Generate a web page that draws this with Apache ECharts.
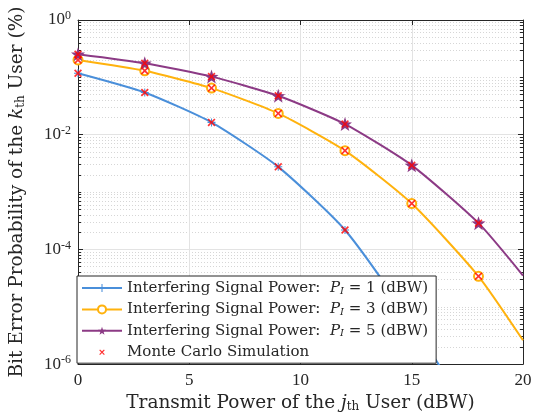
<!DOCTYPE html>
<html>
<head>
<meta charset="utf-8">
<script src="https://cdn.jsdelivr.net/npm/echarts@6/dist/echarts.min.js"></script>
<style>
  html, body { margin: 0; padding: 0; background: #fff; }
  #chart { width: 535px; height: 418px; }
</style>
</head>
<body>
<div id="chart"></div>
<script>
// 数据
const xValues = [0, 3, 6, 9, 12, 15, 18, 20];
const berP1 = [0.118, 0.0545, 0.0164, 0.00275, 2.18e-4, 5.2e-6, 8e-8];
const berP3 = [0.201, 0.13, 0.0649, 0.0235, 0.00527, 6.3e-4, 3.4e-5, 2.6e-6];
const berP5 = [0.253, 0.176, 0.103, 0.0477, 0.0153, 0.00292, 2.87e-4, 3.5e-5];
// Monte Carlo 仿真点
const mcX = [0, 3, 6, 9, 12, 15, 18];
const mcP1 = [0.118, 0.0545, 0.0164, 0.00275, 2.18e-4, 5.2e-6, 8e-8];
const mcP3 = [0.201, 0.13, 0.0649, 0.0235, 0.00527, 6.3e-4, 3.4e-5];
const mcP5 = [0.253, 0.176, 0.103, 0.0477, 0.0153, 0.00292, 2.87e-4];
// 对数轴次刻度
const yMinorTicks = [];
[-6, -5, -4, -3, -2, -1].forEach((e) => {
  for (let m = 1; m <= 9; m++) {
    if (m === 1 && e % 2 === 0) continue;
    yMinorTicks.push(+(m * Math.pow(10, e)).toPrecision(3));
  }
});

const seriesNames = [
  "Interfering Signal Power: P_I = 1 (dBW)",
  "Interfering Signal Power: P_I = 3 (dBW)",
  "Interfering Signal Power: P_I = 5 (dBW)",
  "Monte Carlo Simulation",
];
const color = ["#4A8FDA", "#FFB20D", "#8C3A85", "#FF0000"];
const font = "Liberation Serif";
const font2 = "DejaVu Serif";
const ink = "#262626";

const plusPath = "path://M-1.3,-10 L1.3,-10 L1.3,-1.3 L10,-1.3 L10,1.3 L1.3,1.3 L1.3,10 L-1.3,10 L-1.3,1.3 L-10,1.3 L-10,-1.3 L-1.3,-1.3 Z";
const starPath = "path://M0,-10 L2.35,-3.24 L9.51,-3.09 L3.8,1.24 L5.88,8.09 L0,4 L-5.88,8.09 L-3.8,1.24 L-9.51,-3.09 L-2.35,-3.24 Z";
const crossPath = "path://M-10,-7 L-7,-10 L0,-3 L7,-10 L10,-7 L3,0 L10,7 L7,10 L0,3 L-7,10 L-10,7 L-3,0 Z";
// 图例里的叉号小一些：外面加一圈空白
const crossLegend = "path://M-18,-18 L-18,-18 Z M18,18 L18,18 Z M-10,-7 L-7,-10 L0,-3 L7,-10 L10,-7 L3,0 L10,7 L7,10 L0,3 L-7,10 L-10,7 L-3,0 Z";

const pairs = (xs, ys, lastNoSymbol) =>
  ys.map((y, i) => {
    if (lastNoSymbol && xs[i] === 20) return { value: [xs[i], y], symbol: "none" };
    return [xs[i], y];
  });

const myChart = echarts.init(document.getElementById("chart"));
const axisLineStyle = { show: true, lineStyle: { color: ink, width: 1 } };
const titleRich = {
  t: { fontFamily: font2, fontSize: 18.5, color: ink },
  i: { fontFamily: font2, fontStyle: "italic", fontSize: 18.5, color: ink },
  s: { fontFamily: font2, fontSize: 12, color: ink, verticalAlign: "bottom", padding: [7, 0, 0, 0] },
};

const option = {
  animation: false,
  backgroundColor: "#fff",
  color: color,
  textStyle: { fontFamily: font, color: ink },
  grid: { left: 77, right: 12, top: 20, bottom: 53, containLabel: false },
  legend: {
    orient: "vertical",
    left: 77,
    top: 276,
    z: 10,
    padding: [4, 8, 3, 4],
    itemGap: 5.4,
    itemWidth: 40,
    itemHeight: 10,
    borderColor: ink,
    borderWidth: 1,
    backgroundColor: "#fff",
    data: [
      seriesNames[0],
      seriesNames[1],
      seriesNames[2],
      { name: seriesNames[3], icon: crossLegend },
    ],
    formatter: (name) => {
      const m = name.match(/P_I = (\d)/);
      if (m) return "{t|Interfering Signal Power:  }{i|P}{s|I}{t| = " + m[1] + " (dBW)}";
      return "{t|" + name + "}";
    },
    textStyle: {
      fontFamily: font2,
      fontSize: 15,
      color: ink,
      lineHeight: 16,
      rich: {
        t: { fontFamily: font2, fontSize: 15, color: ink, lineHeight: 16 },
        i: { fontFamily: font2, fontStyle: "italic", fontSize: 15, color: ink, lineHeight: 16 },
        s: { fontFamily: font2, fontStyle: "italic", fontSize: 10, color: ink, verticalAlign: "bottom", padding: [6, 0, 0, 0] },
      },
    },
  },
  xAxis: [
    {
      type: "value",
      min: 0,
      max: 20,
      interval: 5,
      position: "bottom",
      axisLine: axisLineStyle,
      axisTick: { show: true, inside: true, length: 5, lineStyle: { color: ink } },
      axisLabel: {
        margin: 8,
        formatter: (v) => "{a|" + v + "}",
        rich: { a: { fontFamily: font, fontSize: 17, color: ink } },
      },
      splitLine: { show: true, lineStyle: { color: "#e3e3e3", width: 1 } },
      name: "{t|Transmit Power of the }{i|j}{s|th}{t| User (dBW)}",
      nameLocation: "middle",
      nameGap: 29,
      nameTextStyle: { fontFamily: font2, fontSize: 18.5, color: ink, rich: titleRich },
    },
    {
      type: "value",
      min: 0,
      max: 20,
      interval: 5,
      position: "top",
      axisLine: axisLineStyle,
      axisTick: { show: true, inside: true, length: 5, lineStyle: { color: ink } },
      axisLabel: { show: false },
      splitLine: { show: false },
    },
  ],
  yAxis: [
    {
      type: "log",
      logBase: 10,
      min: 1e-6,
      max: 1,
      interval: 2,
      position: "left",
      axisLine: axisLineStyle,
      axisTick: { show: true, inside: true, length: 5, lineStyle: { color: ink } },
      axisLabel: {
        margin: 7,
        formatter: (v) => "{a|10}{b|" + Math.round(Math.log10(v)) + "}",
        rich: {
          a: { fontFamily: font, fontSize: 17, color: ink },
          b: { fontFamily: font, fontSize: 12, color: ink, verticalAlign: "top", padding: [0, 0, 8, 0] },
        },
      },
      splitLine: { show: true, lineStyle: { color: "#e3e3e3", width: 1 } },
      name: "{t|Bit Error Probability of the }{i|k}{s|th}{t| User (%)}",
      nameLocation: "middle",
      nameGap: 51,
      nameRotate: 90,
      nameTextStyle: { fontFamily: font2, fontSize: 18.5, color: ink, rich: titleRich },
    },
    {
      type: "log",
      logBase: 10,
      min: 1e-6,
      max: 1,
      position: "left",
      axisLine: { show: false },
      axisTick: { show: true, inside: true, length: 3, customValues: yMinorTicks, lineStyle: { color: ink } },
      axisLabel: { show: false },
      splitLine: { show: true, lineStyle: { color: "#d6d6d6", width: 1, type: [1, 2] } },
    },
    {
      type: "log",
      logBase: 10,
      min: 1e-6,
      max: 1,
      interval: 2,
      position: "right",
      axisLine: axisLineStyle,
      axisTick: { show: true, inside: true, length: 5, lineStyle: { color: ink } },
      axisLabel: { show: false },
      splitLine: { show: false },
    },
    {
      type: "log",
      logBase: 10,
      min: 1e-6,
      max: 1,
      position: "right",
      axisLine: { show: false },
      axisTick: { show: true, inside: true, length: 3, customValues: yMinorTicks, lineStyle: { color: ink } },
      axisLabel: { show: false },
      splitLine: { show: false },
    },
  ],
  series: [
    {
      name: seriesNames[0],
      type: "line",
      data: pairs(xValues, berP1, true),
      smooth: 0.2,
      clip: true,
      symbol: plusPath,
      symbolSize: 8,
      lineStyle: { width: 2, color: color[0] },
      itemStyle: { color: color[0] },
    },
    {
      name: seriesNames[1],
      type: "line",
      data: pairs(xValues, berP3, true),
      smooth: 0.2,
      clip: true,
      symbol: "emptyCircle",
      symbolSize: 9,
      lineStyle: { width: 2, color: color[1] },
      itemStyle: { color: color[1], borderWidth: 2 },
    },
    {
      name: seriesNames[2],
      type: "line",
      data: pairs(xValues, berP5, true),
      smooth: 0.2,
      clip: true,
      symbol: starPath,
      symbolSize: 14,
      lineStyle: { width: 2, color: color[2] },
      itemStyle: { color: color[2] },
    },
    {
      name: seriesNames[3],
      type: "scatter",
      data: pairs(mcX, mcP1).concat(pairs(mcX, mcP3), pairs(mcX, mcP5)),
      clip: true,
      symbol: crossPath,
      symbolSize: 8,
      itemStyle: { color: color[3] },
      z: 3,
    },
  ],
};
myChart.setOption(option, true);
</script>
</body>
</html>
